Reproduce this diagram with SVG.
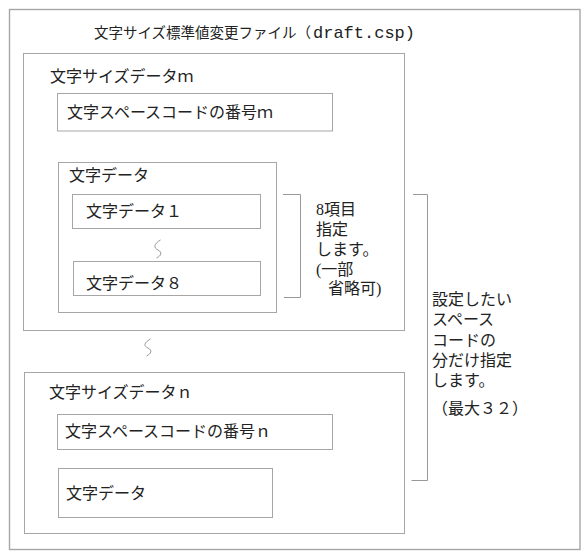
<svg xmlns="http://www.w3.org/2000/svg" width="588" height="559" viewBox="0 0 588 559">
<style>
  .box { fill: #ffffff; stroke: #a6a6a6; stroke-width: 1; }
  .outer { fill: #ffffff; stroke: #a6a6a6; stroke-width: 1.4; }
  .line { fill: none; stroke: #999999; stroke-width: 1; }
  text { font-family: "Liberation Serif", "Noto Sans CJK JP", serif; font-size: 16px; fill: #222222; }
  .title { font-size: 14.5px; }
  .mono { font-family: "Liberation Mono", "Noto Sans CJK JP", monospace; font-size: 17px; }
</style>
<rect width="588" height="559" fill="#ffffff"/>
<g id="file">
  <rect class="outer" x="9.5" y="9.5" width="570.5" height="540"/>
  <text class="title" x="94" y="38">文字サイズ標準値変更ファイル（<tspan class="mono" x="313">draft.csp)</tspan></text>
</g>
<g id="size-data-m">
  <rect class="box" x="23.5" y="53.5" width="381" height="277"/>
  <text x="50" y="82">文字サイズデータｍ</text>
</g>
<g id="code-m">
  <rect class="box" x="57.5" y="93.5" width="275" height="37.5"/>
  <text x="67" y="118">文字スペースコードの番号ｍ</text>
</g>
<g id="char-data-m">
  <rect class="box" x="58.5" y="162.5" width="218" height="150"/>
  <text x="69" y="181">文字データ</text>
</g>
<g id="char-data-1">
  <rect class="box" x="72.5" y="194.5" width="188" height="34"/>
  <text x="86" y="217">文字データ１</text>
</g>
<g id="char-data-8">
  <rect class="box" x="73.5" y="261.5" width="187" height="34"/>
  <text x="86" y="289">文字データ８</text>
</g>
<g id="note-8">
  <text x="316" y="215">8項目</text>
  <text x="316" y="235">指定</text>
  <text x="316" y="255">します。</text>
  <text x="316" y="275">(一部</text>
  <text x="328" y="294">省略可)</text>
</g>
<g id="size-data-n">
  <rect class="box" x="24.5" y="372.5" width="380" height="161"/>
  <text x="49" y="398">文字サイズデータｎ</text>
</g>
<g id="code-n">
  <rect class="box" x="57.5" y="414.5" width="275" height="35"/>
  <text x="65" y="437">文字スペースコードの番号ｎ</text>
</g>
<g id="char-data-n">
  <rect class="box" x="58.5" y="468.5" width="214" height="49"/>
  <text x="66" y="499">文字データ</text>
</g>
<g id="note-32">
  <text x="432" y="305">設定したい</text>
  <text x="432" y="325">スペース</text>
  <text x="432" y="346">コードの</text>
  <text x="432" y="366">分だけ指定</text>
  <text x="432" y="386">します。</text>
  <text x="432" y="414">（最大３２）</text>
</g>
<g id="connectors">
  <path class="line" d="M283,194.5 H300.5 V297.5 H284"/>
  <path class="line" d="M413,194.5 H427.5 V480.5 H411.5"/>
  <path class="line" d="M160.5,240 C153.5,244 153.5,248 158,250 C162.5,252.5 161.5,255.5 156.5,258"/>
  <path class="line" d="M150.5,339 C143.5,343 143.5,346 148,348 C152.5,350.5 151.5,353.5 146.5,356"/>
</g>
</svg>
